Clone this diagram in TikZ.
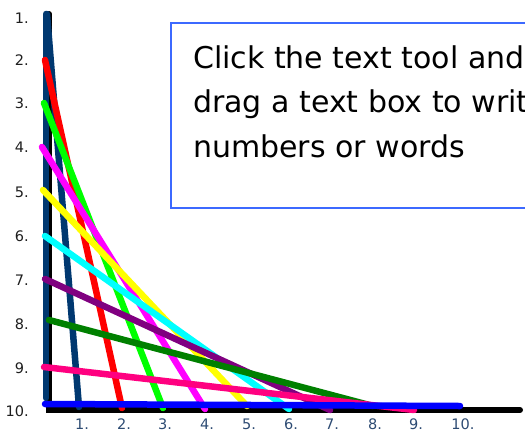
\documentclass[tikz,border=0pt]{standalone}
\usepackage{fontspec}
\setsansfont{DejaVu Sans}
\usepackage{tikz}
\usetikzlibrary{positioning}
\definecolor{strandnavy}{RGB}{0,56,112}
\definecolor{strandred}{RGB}{255,0,0}
\definecolor{strandgreen}{RGB}{0,255,0}
\definecolor{strandmagenta}{RGB}{255,0,255}
\definecolor{strandyellow}{RGB}{255,255,0}
\definecolor{strandcyan}{RGB}{0,255,255}
\definecolor{strandpurple}{RGB}{128,0,128}
\definecolor{stranddkgreen}{RGB}{0,128,0}
\definecolor{strandpink}{RGB}{255,0,128}
\definecolor{strandblue}{RGB}{0,0,255}
\definecolor{tipblue}{RGB}{60,105,255}
\definecolor{labgray}{RGB}{30,30,30}
\definecolor{labblue}{RGB}{45,75,115}
\tikzset{
  axis/.style={line width=6pt, line cap=round, draw=black},
  strand/.style={line width=6.5pt, line cap=round},
  ylab/.style={anchor=east, inner sep=0pt, text=labgray, font=\sffamily\fontsize{14.5}{14.5}\selectfont},
  xlab/.style={anchor=north, inner sep=0pt, text=labblue, font=\sffamily\fontsize{14.5}{14.5}\selectfont},
  tipbox/.style={draw=tipblue, line width=2pt, fill=white, anchor=north west, minimum width=420pt, minimum height=185pt},
  tiptext/.style={anchor=north west, inner sep=0pt, align=left, font=\sffamily\fontsize{30}{44.5}\selectfont},
}
\begin{document}
\begin{tikzpicture}[x=1pt,y=-1pt]
  \useasboundingbox (0,0) rectangle (525,432);
  \clip (0,0) rectangle (525,432);
  % axes
  \coordinate (top) at (49,14);
  \coordinate (o) at (49,410);
  \coordinate (end) at (520,410);
  \draw[axis] (top) -- (o) -- (end);
  \coordinate (ntop) at (46,14);
  \coordinate (nbot) at (46,398);
  \draw[strand, strandnavy] (ntop) -- (nbot);

  % strands: k on the left to k on the bottom
  \foreach \i/\col/\xa/\ya/\xb/\yb in {
      1/strandnavy/47/14/79/407, 2/strandred/45/60/122/408,
      3/strandgreen/44/103/163/408, 4/strandmagenta/42/147/205/409,
      5/strandyellow/43/190/247/406, 6/strandcyan/45/236/289/409,
      7/strandpurple/45/279/330/410, 8/stranddkgreen/49/320/373/406,
      9/strandpink/44/367/414/410, 10/strandblue/45/404/460/406}{
    \coordinate (l\i) at (\xa,\ya);
    \coordinate (b\i) at (\xb,\yb);
    \draw[strand, color=\col] (l\i) -- (b\i);
  }

  % numbers
  \foreach \i/\y in {1/18, 2/60, 3/103, 4/147, 5/192, 6/236, 7/280, 8/324, 9/368, 10/411}
    \node[ylab] (yl\i) at (29,\y) {\i.};
  \foreach \i/\x in {1/82, 2/124, 3/165, 4/207, 5/249, 6/291, 7/332, 8/375, 9/416, 10/463}
    \node[xlab] (xl\i) at (\x,419) {\i.};

  % text box
  \node[tipbox] (tip) at (170,22) {};
  \node[tiptext] (tiptxt) at (193,45.5) {Click the text tool and\\drag a text box to write\\numbers or words};
\end{tikzpicture}
\end{document}
